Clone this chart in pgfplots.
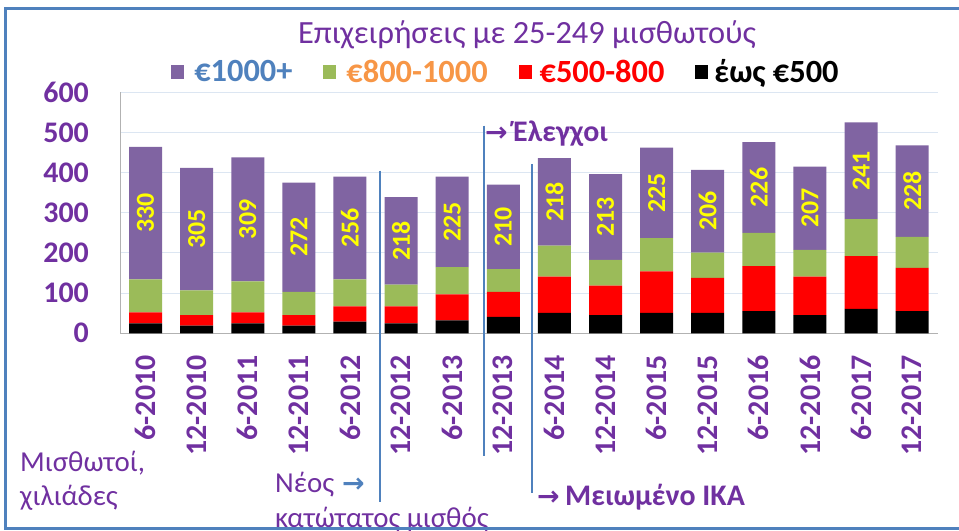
\documentclass[border=0pt]{standalone}
\usepackage{pgfplots}
\pgfplotsset{compat=1.18}
\usepackage{pgfplotstable}
\usepackage{fontspec}
\setmainfont{Carlito}
\newfontfamily\arrowfont{DejaVu Sans}

\definecolor{cpurple}{HTML}{8064A2}
\definecolor{cgreen}{HTML}{9BBB59}
\definecolor{cred}{HTML}{FF0000}
\definecolor{txtpurple}{HTML}{7030A0}
\definecolor{frameblue}{HTML}{4F81BD}
\definecolor{legorange}{HTML}{F79646}
\definecolor{gridc}{HTML}{DCE6F2}
\definecolor{yel}{HTML}{FFFF00}

% thousands of employees per wage band, mid = centre of the top segment
\pgfplotstableread{
x black red green purple mid
0  25  27  82 330 299
1  19  26  62 305 259.5
2  25  27  77 309 283.5
3  19  26  58 272 239
4  29  38  67 256 262
5  25  42  54 218 230
6  32  65  68 225 277.5
7  41  62  57 210 265
8  51  90  77 218 327
9  45  74  64 213 289.5
10 51 103  83 225 349.5
11 51  87  63 206 304
12 55 112  83 226 363
13 45  96  67 207 311.5
14 61 131  92 241 404.5
15 55 108  77 228 354
}\wages

\begin{document}
\begin{tikzpicture}
\useasboundingbox (0,0) rectangle (959bp,531bp);
\begin{axis}[
    at={(120bp,197.7bp)}, anchor=south west,
    width=817.7bp, height=241bp, scale only axis,
    ybar stacked, bar width=0.646,
    xmin=-0.5, xmax=15.5, ymin=0, ymax=600,
    ytick={0,100,...,600},
    xtick={0,...,15},
    xticklabels={6-2010,12-2010,6-2011,12-2011,6-2012,12-2012,6-2013,12-2013,
                 6-2014,12-2014,6-2015,12-2015,6-2016,12-2016,6-2017,12-2017},
    axis x line*=bottom, axis y line*=left,
    axis line style={-, draw=black!30, line width=1bp},
    ymajorgrids, grid style={gridc, line width=1bp},
    major tick length=0pt,
    /pgf/number format/assume math mode=true,
    tick label style={font=\fontsize{30}{30}\selectfont\bfseries, text=txtpurple},
    xticklabel style={rotate=90, anchor=east, inner sep=0pt},
    yticklabel style={anchor=east, inner sep=0pt},
    xticklabel shift=22bp, yticklabel shift=31bp,
    reverse legend,
    legend columns=-1,
    legend style={at={(0.472,1.084)}, anchor=center, draw=none, fill=none,
        font=\fontsize{32.5}{32.5}\selectfont\bfseries,
        /tikz/every even column/.append style={column sep=29bp}},
    legend image code/.code={\fill[#1] (0bp,-6.5bp) rectangle (13bp,7bp);},
    legend cell align=left,
]
\addplot[fill=black, draw=none] table[x=x,y=black]{\wages};
\addlegendentry{\hspace{4bp}έως €500}
\addplot[fill=cred, draw=none] table[x=x,y=red]{\wages};
\addlegendentry{\hspace{6bp}\textcolor{cred}{€500-800}}
\addplot[fill=cgreen, draw=none] table[x=x,y=green]{\wages};
\addlegendentry{\hspace{8bp}\textcolor{legorange}{€800-1000}}
\addplot[fill=cpurple, draw=none] table[x=x,y=purple]{\wages};
\addlegendentry{\hspace{8bp}\textcolor{frameblue}{€1000+}}
\end{axis}

% value labels of the top segment
\begin{axis}[
    at={(120bp,197.7bp)}, anchor=south west,
    width=817.7bp, height=241bp, scale only axis,
    xmin=-0.5, xmax=15.5, ymin=0, ymax=600,
    axis lines=none, clip=false,
]
\addplot[draw=none, mark=none, nodes near coords, point meta=explicit symbolic,
    every node near coord/.append style={anchor=center, rotate=90, text=yel,
        font=\fontsize{26}{26}\selectfont\bfseries}]
    table[x=x, y=mid, meta=purple]{\wages};
\end{axis}

% title
\node[anchor=base, inner sep=0pt, text=txtpurple, font=\fontsize{32.5}{32.5}\selectfont]
    at (527bp,487.7bp) {Επιχειρήσεις με 25-249 μισθωτούς};

% event markers
\draw[frameblue, line width=2bp] (379.5bp,360.3bp) -- (379.5bp,29.3bp);
\draw[frameblue, line width=2bp] (484bp,405.3bp) -- (484bp,75bp);
\draw[frameblue, line width=2bp] (532.3bp,367bp) -- (532.3bp,38bp);

\node[anchor=base west, inner sep=0pt, text=txtpurple, font=\fontsize{27}{27}\arrowfont\bfseries]
    at (485bp,389.3bp) {→};
\node[anchor=base west, inner sep=0pt, text=txtpurple, font=\fontsize{30}{30}\selectfont\bfseries]
    at (513bp,389.3bp) {Έλεγχοι};

\node[anchor=base west, inner sep=0pt, text=txtpurple, font=\fontsize{29}{29}\selectfont]
    at (275bp,39bp) {Νέος};
\node[anchor=base west, inner sep=0pt, text=frameblue, font=\fontsize{27}{27}\arrowfont\bfseries]
    at (342bp,39bp) {→};
\node[anchor=base west, inner sep=0pt, text=txtpurple, font=\fontsize{29}{29}\selectfont]
    at (275bp,4bp) {κατώτατος μισθός};

\node[anchor=base west, inner sep=0pt, text=txtpurple, font=\fontsize{27}{27}\arrowfont\bfseries]
    at (537bp,26bp) {→};
\node[anchor=base west, inner sep=0pt, text=txtpurple, font=\fontsize{30}{30}\selectfont\bfseries]
    at (565bp,26bp) {Μειωμένο ΙΚΑ};

\node[anchor=base west, inner sep=0pt, text=txtpurple, font=\fontsize{29}{29}\selectfont]
    at (20bp,59.3bp) {Μισθωτοί,};
\node[anchor=base west, inner sep=0pt, text=txtpurple, font=\fontsize{29}{29}\selectfont]
    at (20bp,26bp) {χιλιάδες};

% chart frame
\draw[frameblue, line width=3bp] (975bp,522.7bp) -- (5.5bp,522.7bp) -- (5.5bp,2bp) -- (975bp,2bp);
\end{tikzpicture}
\end{document}
